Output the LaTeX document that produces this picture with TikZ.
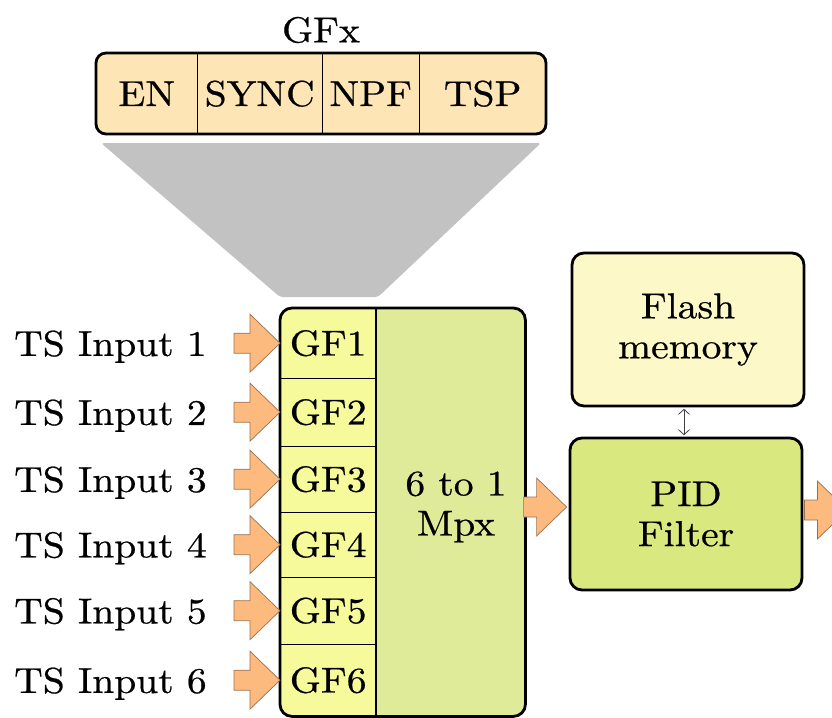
\documentclass[tikz,border=0pt]{standalone}
\usepackage{fontspec}
\setmainfont{lmroman10-regular.otf}[FakeStretch=1.1, FakeBold=0.6]
\usetikzlibrary{arrows.meta,calc}

\definecolor{peach}{HTML}{FDE5B6}
\definecolor{funnelgray}{HTML}{C2C2C2}
\definecolor{gfyellow}{HTML}{F6FA9A}
\definecolor{mpxgreen}{HTML}{E0EB9A}
\definecolor{pidgreen}{HTML}{D9E87F}
\definecolor{flashcream}{HTML}{FCF8C8}
\definecolor{arroworange}{HTML}{FDBA7E}
\definecolor{arrowedge}{HTML}{9A7050}

% block arrow: #1 = tip, #2 = total length (head is 30 long, 58 high; shaft 20 high)
\newcommand\blockarrow[2]{%
  \filldraw[arrowbody] (#1) -- ++(-30,-29) -- ++(0,19) -- ++(-#2+30,0)
    -- ++(0,20) -- ++(#2-30,0) -- ++(0,19) -- cycle;}

\begin{document}
\begin{tikzpicture}[x=1pt,y=-1pt,
  every node/.style={font=\fontsize{36}{40}\selectfont, inner sep=0pt},
  outline/.style={line width=2.8pt},
  divider/.style={line width=1.4pt},
  arrowbody/.style={fill=arroworange, draw=arrowedge, line width=0.7pt, line join=miter},
  roundbox/.style={rectangle, rounded corners=12pt, draw, line width=2.8pt, align=center},
  cell/.style={rectangle, minimum width=96pt, anchor=north west},
  tslabel/.style={anchor=west, text depth=0pt},
]
\useasboundingbox (0,0) rectangle (832,717);
\clip (0,0) rectangle (832,717);

% ---- GFx field layout ----
\node (gfxlabel) at (321,30) {GFx};
\node[roundbox, fill=peach, rounded corners=10pt, minimum width=450pt, minimum height=81pt]
  (gfx) at (321,93.5) {};
\node[cell, minimum width=101pt, minimum height=81pt] (en)   at (96,53)  {EN};
\node[cell, minimum width=125pt, minimum height=81pt] (sync) at (197,53) {SYNC};
\node[cell, minimum width=97pt,  minimum height=81pt] (npf)  at (322,53) {NPF};
\node[cell, minimum width=127pt, minimum height=81pt] (tsp)  at (419,53) {TSP};
\foreach \c in {en,sync,npf}
  \draw[divider] (\c.north east) -- (\c.south east);

% funnel from the field layout down to the filters
\fill[funnelgray, rounded corners=3pt] (101,143) -- (541,143) -- (378,297) -- (280,297) -- cycle;

% ---- multiplexer with the six GF filters ----
\node[rectangle, fill=mpxgreen, rounded corners=12pt, minimum width=245pt, minimum height=408pt,
  anchor=north west] (mpx) at (280,308) {};
\begin{scope}
  \clip[rounded corners=12pt] (mpx.north west) rectangle (mpx.south east);
  \fill[gfyellow] (mpx.north west) rectangle (376,716);
\end{scope}
\node[align=center] (mpxtext) at (456,507) {6 to 1\\Mpx};

\node[cell, minimum height=70pt] (gf1) at (280,308) {GF1};
\node[cell, minimum height=68pt] (gf2) at (280,378) {GF2};
\node[cell, minimum height=66pt] (gf3) at (280,446) {GF3};
\node[cell, minimum height=65pt] (gf4) at (280,512) {GF4};
\node[cell, minimum height=67pt] (gf5) at (280,577) {GF5};
\node[cell, minimum height=72pt] (gf6) at (280,644) {GF6};
\foreach \i in {1,...,5}
  \draw[divider] (gf\i.south west) -- (gf\i.south east);
\draw[divider] (376,308) -- (376,716);
\draw[outline, rounded corners=12pt] (mpx.north west) rectangle (mpx.south east);

% ---- inputs ----
\foreach \i in {1,...,6} {
  \node[tslabel] (ts\i) at ($(14,0)!(gf\i.west)!(14,1)$) {TS Input \i};
  \blockarrow{gf\i.west}{46}
}

% ---- PID filter and flash memory ----
\node[roundbox, fill=flashcream, minimum width=232pt, minimum height=153pt] (flash) at (688,329.5)
  {Flash\\memory};
\node[roundbox, fill=pidgreen, minimum width=232pt, minimum height=152pt] (pid) at (686,514)
  {PID\\Filter};
\draw[line width=0.8pt, draw=black!75, {Straight Barb[length=5pt,width=11pt]}-{Straight Barb[length=5pt,width=11pt]}]
  ($(flash.south)+(-4,1.4)$) -- ($(flash.south |- pid.north)+(-4,-1.4)$);

% mux output into the PID filter, and the filter output
\coordinate (pidin) at ($(pid.west)+(-2,-7)$);
\blockarrow{pidin}{43}
\coordinate (pidout) at ($(pid.east)+(44,-4)$);
\blockarrow{pidout}{43}
\end{tikzpicture}
\end{document}
